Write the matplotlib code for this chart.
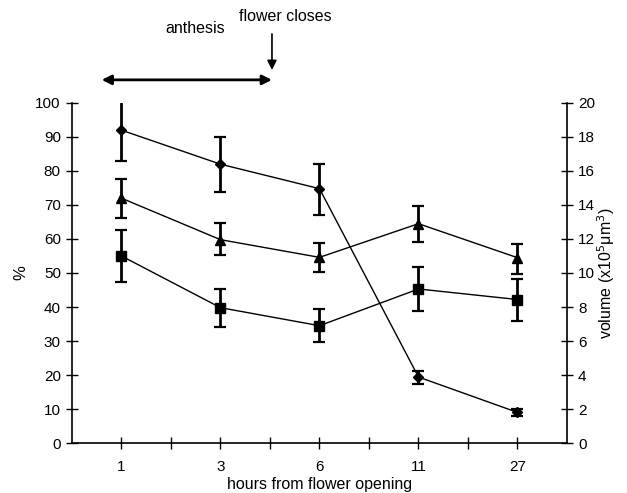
import matplotlib
matplotlib.use("Agg")
import matplotlib.pyplot as plt

plt.rcParams['font.family'] = ['Liberation Sans', 'DejaVu Sans']

hours = ["1", "3", "6", "11", "27"]
diamond = [92, 82, 74.8, 19.4, 9.0]
diamond_lo = [83, 73.8, 67, 17.3, 7.9]
diamond_hi = [101, 90, 82, 21.3, 9.9]
triangle = [72, 59.8, 54.6, 64.5, 54.5]
triangle_lo = [66.2, 55.2, 50.3, 59, 49.8]
triangle_hi = [77.7, 64.6, 58.8, 69.8, 58.5]
square = [55, 39.8, 34.5, 45.3, 42.2]
square_lo = [47.4, 34.2, 29.6, 38.9, 36.0]
square_hi = [62.7, 45.4, 39.3, 51.9, 48.2]

fig = plt.figure(figsize=(6.27, 4.93), dpi=100)
ax = fig.add_axes([0.1148, 0.1014, 0.7895, 0.6897])
x = list(range(1, len(hours) + 1))

for vals, lo, hi, mk, ms in [(diamond, diamond_lo, diamond_hi, 'D', 5.5),
                             (triangle, triangle_lo, triangle_hi, '^', 7),
                             (square, square_lo, square_hi, 's', 7)]:
    yerr = [[v - l for v, l in zip(vals, lo)], [h - v for v, h in zip(vals, hi)]]
    ax.errorbar(x, vals, yerr=yerr, fmt='-', marker=mk, ms=ms, color='black',
                lw=1.0, elinewidth=2.0, capsize=4, capthick=1.6, mfc='black', mec='black')

ax.set_xlim(0.5, 5.5)
ax.set_ylim(0, 100)
ax.set_yticks(range(0, 101, 10))
ax.set_xticks(x)
ax.set_xticklabels(hours)
ax.set_xticks([1.5, 2.5, 3.5, 4.5], minor=True)
ax.tick_params(axis='x', which='both', direction='inout', length=8, width=1, labelsize=11, pad=8)
ax.tick_params(axis='y', direction='inout', length=8, width=1, labelsize=11, pad=4)
for s in ['top', 'right']:
    ax.spines[s].set_visible(False)
for s in ['left', 'bottom']:
    ax.spines[s].set_linewidth(1.2)
ax.set_ylabel('%', fontsize=12, labelpad=5)
ax.set_xlabel('hours from flower opening', fontsize=11.5, labelpad=2.5)

ax2 = ax.twinx()
ax2.set_ylim(0, 20)
ax2.set_yticks(range(0, 21, 2))
ax2.tick_params(axis='y', direction='inout', length=8, width=1, labelsize=11, pad=4)
for s in ['top', 'left', 'bottom']:
    ax2.spines[s].set_visible(False)
ax2.spines['right'].set_linewidth(1.2)
ax2.set_ylabel(r'volume (x10$^5$$\mathregular{\mu}$m$^3$)', fontsize=11.5, labelpad=0)

# annotations
ax.annotate('', xy=(0.8, 106.8), xytext=(2.52, 106.8), xycoords='data',
            arrowprops=dict(arrowstyle='<|-|>', color='black', lw=2, mutation_scale=14,
                            shrinkA=0, shrinkB=0),
            annotation_clip=False)
ax.text(1.74, 122.0, 'anthesis', ha='center', va='center', fontsize=11.5, clip_on=False)
ax.annotate('', xy=(2.52, 109.7), xytext=(2.52, 120.3), xycoords='data',
            arrowprops=dict(arrowstyle='-|>', color='black', lw=1.2, mutation_scale=14,
                            shrinkA=0, shrinkB=0),
            annotation_clip=False)
ax.text(2.65, 125.5, 'flower closes', ha='center', va='center', fontsize=11.5, clip_on=False)

fig.savefig('out.png', dpi=100)
